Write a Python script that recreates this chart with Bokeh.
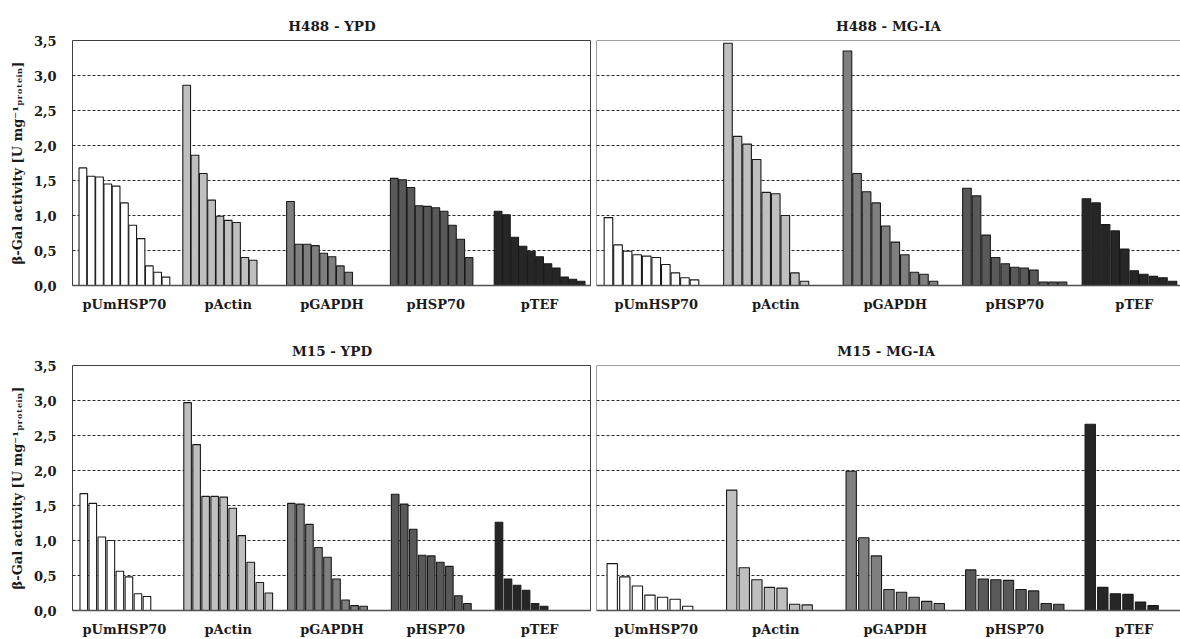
from bokeh.plotting import figure
from bokeh.layouts import column, row
from bokeh.models import Range1d, FixedTicker, CustomJSTickFormatter, Span, ColumnDataSource
from bokeh.embed import file_html
from bokeh.resources import INLINE

# promoters shown along each x axis, with their bar fill colours
promoters = ["pUmHSP70", "pActin", "pGAPDH", "pHSP70", "pTEF"]
promoter_colors = ["#ffffff", "#bfbfbf", "#7f7f7f", "#595959", "#262626"]

# y axis ticks (comma used as decimal separator in the labels)
y_ticks = [0.0, 0.5, 1.0, 1.5, 2.0, 2.5, 3.0, 3.5]

# beta-galactosidase activity per clone, sorted high -> low, one list per promoter
h488_ypd = [
    [1.68, 1.56, 1.55, 1.45, 1.42, 1.18, 0.86, 0.67, 0.28, 0.19, 0.12],
    [2.86, 1.86, 1.60, 1.22, 0.99, 0.93, 0.90, 0.40, 0.36],
    [1.20, 0.59, 0.59, 0.57, 0.46, 0.41, 0.28, 0.19],
    [1.53, 1.51, 1.40, 1.14, 1.13, 1.11, 1.06, 0.86, 0.66, 0.40],
    [1.06, 1.01, 0.69, 0.56, 0.49, 0.41, 0.31, 0.25, 0.12, 0.09, 0.06],
]
h488_mgia = [
    [0.97, 0.58, 0.49, 0.44, 0.42, 0.40, 0.30, 0.18, 0.11, 0.08],
    [3.46, 2.13, 2.02, 1.80, 1.33, 1.31, 1.00, 0.18, 0.06],
    [3.35, 1.60, 1.34, 1.18, 0.85, 0.62, 0.44, 0.19, 0.16, 0.06],
    [1.39, 1.28, 0.72, 0.40, 0.31, 0.26, 0.25, 0.22, 0.05, 0.05, 0.05],
    [1.24, 1.18, 0.87, 0.78, 0.52, 0.21, 0.16, 0.13, 0.11, 0.06],
]
m15_ypd = [
    [1.67, 1.53, 1.05, 1.00, 0.56, 0.48, 0.24, 0.20],
    [2.97, 2.37, 1.63, 1.63, 1.62, 1.46, 1.07, 0.69, 0.40, 0.25],
    [1.53, 1.52, 1.23, 0.90, 0.76, 0.45, 0.15, 0.07, 0.06],
    [1.66, 1.52, 1.16, 0.79, 0.78, 0.69, 0.63, 0.21, 0.10],
    [1.26, 0.45, 0.36, 0.29, 0.10, 0.06],
]
m15_mgia = [
    [0.67, 0.48, 0.35, 0.22, 0.19, 0.16, 0.06],
    [1.72, 0.61, 0.44, 0.33, 0.32, 0.09, 0.08],
    [1.99, 1.04, 0.78, 0.30, 0.26, 0.19, 0.13, 0.10],
    [0.58, 0.45, 0.44, 0.43, 0.30, 0.28, 0.10, 0.09],
    [2.66, 0.33, 0.24, 0.23, 0.12, 0.07],
]

FONT = "DejaVu Serif"
TEXT = "#1a1a1a"
GAP = 1.5  # empty slots between promoter groups


def make_panel(title, groups, n_slots, bar_width, width, height,
               border_left, border_top, border_bottom, visible_groups,
               with_y_labels, title_offset=0):
    G = n_slots + GAP
    xs, tops, fills = [], [], []
    for i, vals in enumerate(groups):
        for j, v in enumerate(vals):
            xs.append(i * G + GAP / 2 + j + 0.5)
            tops.append(v)
            fills.append(promoter_colors[i])
    src = ColumnDataSource(dict(x=xs, top=tops, fill=fills))

    p = figure(width=width, height=height, title=title,
               x_range=Range1d(0, G * visible_groups), y_range=Range1d(0, 3.5),
               output_backend="svg", toolbar_location=None,
               min_border_left=border_left, min_border_right=0,
               min_border_top=border_top, min_border_bottom=border_bottom,
               background_fill_color="white", border_fill_color="white")

    p.title.align = "center"
    p.title.text_font = FONT
    p.title.text_font_style = "bold"
    p.title.text_font_size = "13.5px"
    p.title.text_color = TEXT
    p.title.offset = title_offset
    p.title.standoff = 13

    p.vbar(x="x", top="top", width=bar_width, bottom=0, source=src,
           fill_color="fill", line_color="#1a1a1a", line_width=1.1)

    # dashed horizontal guide lines
    p.xgrid.visible = False
    p.ygrid.ticker = FixedTicker(ticks=y_ticks[1:-1])
    p.ygrid.grid_line_color = "#2b2b2b"
    p.ygrid.grid_line_dash = "3 2"
    p.ygrid.grid_line_width = 1

    # x axis: one label per promoter group
    xa = p.xaxis[0]
    xa.ticker = FixedTicker(ticks=[G / 2 + i * G for i in range(len(promoters))])
    xa.formatter = CustomJSTickFormatter(
        args=dict(names=promoters, G=G),
        code="const i = Math.round((tick - G / 2) / G); return (i >= 0 && i < names.length) ? names[i] : '';")
    xa.major_tick_line_color = None
    xa.minor_tick_line_color = None
    xa.major_tick_out = 0
    xa.major_tick_in = 0
    xa.minor_tick_out = 0
    xa.axis_line_color = "#505050"
    xa.axis_line_width = 1.5
    xa.major_label_standoff = 11
    xa.major_label_text_font = FONT
    xa.major_label_text_font_style = "bold"
    xa.major_label_text_font_size = "13px"
    xa.major_label_text_color = TEXT

    ya = p.yaxis[0]
    ya.ticker = FixedTicker(ticks=y_ticks)
    ya.major_tick_line_color = None
    ya.minor_tick_line_color = None
    ya.major_tick_out = 0
    ya.major_tick_in = 0
    ya.minor_tick_out = 0
    if with_y_labels:
        ya.formatter = CustomJSTickFormatter(code="return tick.toFixed(1).replace('.', ',');")
        ya.axis_line_color = None
        ya.major_label_standoff = 16
        ya.major_label_text_font = FONT
        ya.major_label_text_font_style = "bold"
        ya.major_label_text_font_size = "13px"
        ya.major_label_text_color = TEXT
        ya.axis_label = "\u03b2-Gal activity [U mg\u207b\u00b9\u209a\u1d63\u2092\u209c\u2091\u1d62\u2099]"
        ya.axis_label_standoff = 6
        ya.axis_label_text_font = FONT
        ya.axis_label_text_font_style = "bold"
        ya.axis_label_text_font_size = "13px"
        ya.axis_label_text_color = TEXT
        p.outline_line_color = "#404040"
        p.outline_line_width = 1
    else:
        ya.visible = False
        p.outline_line_color = None
        # left and top frame edges; the panel runs on past the right edge
        p.add_layout(Span(location=0, dimension="height", line_color="#404040", line_width=1))
        p.add_layout(Span(location=3.5, dimension="width", line_color="#404040", line_width=1))
    return p


# panel geometry: right-hand panels are wider than the space left for them,
# so only the visible part of their last group is shown
RIGHT_VISIBLE = 584 / 119.5

p1 = make_panel("H488 - YPD", h488_ypd, 11, 0.93, 591, 320, 72, 40, 35, 5, True)
p2 = make_panel("H488 - MG-IA", h488_mgia, 11, 0.90, 589, 320, 5, 40, 35, RIGHT_VISIBLE, False, 7)
p3 = make_panel("M15 - YPD", m15_ypd, 10, 0.84, 591, 319, 72, 45, 29, 5, True)
p4 = make_panel("M15  - MG-IA", m15_mgia, 8, 0.82, 589, 319, 5, 45, 29, RIGHT_VISIBLE, False, 7)

layout = column(row(p1, p2, spacing=0), row(p3, p4, spacing=0), spacing=0)

open("out.html", "w").write(file_html(layout, INLINE))
